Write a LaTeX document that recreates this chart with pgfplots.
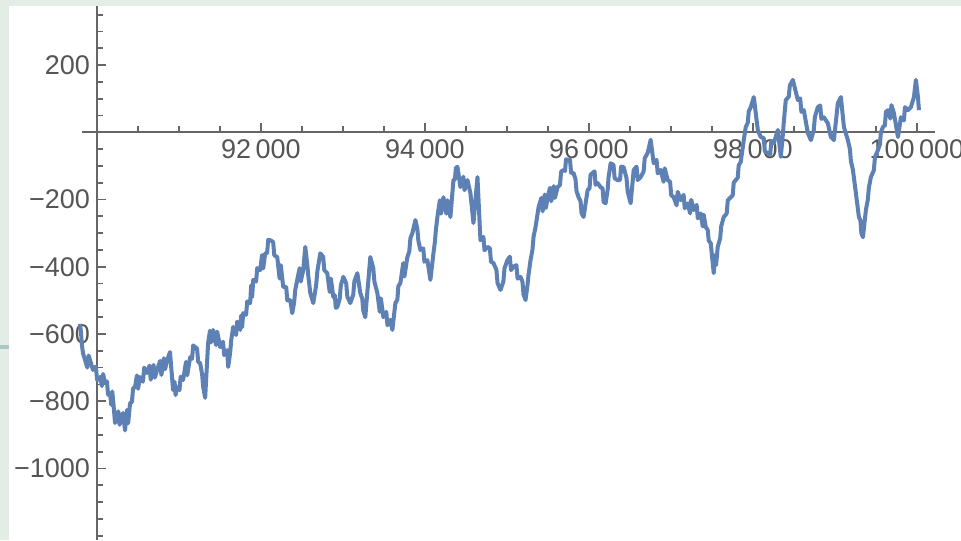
\documentclass[border=0pt]{standalone}
\usepackage{fontspec}
\setmainfont{Liberation Sans}
\usepackage{pgfplots}
\usepackage{pgfplotstable}
\pgfplotsset{compat=1.18}
\definecolor{mblue}{rgb}{0.368,0.507,0.710}
\definecolor{axgray}{HTML}{666666}
\definecolor{lblgray}{HTML}{555555}
\definecolor{strip}{HTML}{E4ECE6}
\definecolor{teal1}{HTML}{A9C9C6}
\pgfplotstableread{
x y
89792 -570
89805 -595
89815 -631
89829 -657
89882 -700
89898 -664
89951 -707
89986 -697
90002 -737
90037 -728
90060 -755
90074 -719
90098 -746
90121 -741
90135 -781
90159 -776
90174 -811
90186 -771
90200 -806
90220 -865
90260 -830
90276 -870
90317 -835
90342 -887
90365 -826
90380 -866
90403 -806
90426 -802
90440 -762
90464 -758
90487 -723
90501 -763
90525 -728
90560 -742
90576 -700
90611 -716
90640 -694
90655 -736
90690 -692
90705 -730
90733 -707
90770 -680
90785 -722
90815 -672
90830 -705
90855 -678
90890 -654
90928 -767
90946 -742
90958 -782
90977 -758
91006 -767
91020 -727
91050 -737
91086 -683
91100 -723
91136 -669
91159 -674
91173 -634
91197 -639
91220 -643
91234 -683
91258 -687
91282 -720
91294 -756
91319 -790
91355 -627
91378 -590
91392 -625
91416 -588
91452 -633
91466 -593
91502 -639
91537 -623
91551 -663
91587 -648
91600 -698
91624 -655
91636 -620
91661 -579
91696 -603
91710 -563
91746 -588
91758 -545
91770 -580
91783 -538
91818 -543
91832 -503
91868 -508
91880 -455
91892 -490
91905 -439
91940 -444
91954 -404
91990 -410
92013 -365
92027 -405
92051 -360
92074 -360
92088 -320
92112 -321
92148 -326
92162 -366
92198 -371
92227 -435
92241 -395
92271 -460
92307 -460
92321 -500
92357 -499
92381 -538
92405 -505
92417 -470
92442 -439
92471 -404
92485 -444
92515 -410
92540 -341
92565 -395
92576 -425
92601 -478
92637 -508
92673 -454
92687 -414
92723 -360
92758 -370
92772 -410
92808 -419
92838 -475
92852 -435
92882 -490
92900 -485
92912 -522
92930 -520
92960 -495
92974 -455
93004 -430
93039 -449
93053 -489
93089 -508
93125 -483
93139 -443
93175 -419
93211 -478
93235 -495
93247 -530
93272 -550
93297 -475
93308 -445
93333 -371
93369 -404
93383 -444
93419 -478
93448 -534
93462 -494
93492 -550
93528 -534
93542 -574
93578 -558
93602 -588
93639 -508
93663 -498
93675 -458
93700 -448
93735 -389
93749 -429
93785 -371
93808 -355
93822 -315
93846 -300
93883 -261
93907 -288
93919 -322
93944 -350
93979 -345
93993 -385
94029 -380
94066 -439
94103 -360
94121 -325
94133 -290
94151 -252
94181 -202
94195 -242
94225 -193
94260 -242
94274 -202
94310 -252
94347 -142
94365 -140
94377 -105
94396 -103
94432 -163
94468 -132
94482 -172
94518 -142
94554 -181
94591 -270
94640 -133
94676 -321
94712 -311
94726 -351
94762 -341
94791 -345
94805 -385
94835 -389
94871 -409
94885 -449
94921 -469
94956 -444
94970 -404
95006 -380
95035 -370
95049 -410
95079 -400
95115 -395
95129 -435
95165 -430
95189 -445
95201 -482
95226 -499
95250 -455
95262 -425
95287 -380
95310 -351
95324 -311
95348 -282
95385 -223
95420 -195
95435 -235
95460 -185
95475 -225
95495 -193
95525 -165
95540 -205
95570 -160
95585 -195
95617 -163
95646 -157
95660 -117
95690 -112
95708 -115
95720 -80
95739 -82
95768 -81
95782 -121
95812 -121
95836 -140
95848 -175
95873 -193
95897 -205
95909 -240
95934 -252
95983 -172
96007 -166
96019 -126
96044 -121
96068 -116
96080 -156
96105 -151
96142 -163
96166 -167
96178 -207
96203 -211
96228 -170
96238 -135
96264 -92
96299 -97
96313 -137
96349 -142
96378 -142
96392 -102
96422 -103
96458 -137
96472 -177
96508 -211
96545 -112
96580 -102
96594 -142
96630 -133
96666 -117
96680 -77
96716 -61
96752 -22
96789 -92
96824 -82
96838 -122
96874 -112
96910 -147
96924 -107
96960 -142
96989 -147
97003 -187
97033 -193
97068 -217
97082 -177
97118 -202
97154 -186
97168 -226
97204 -211
97233 -241
97247 -201
97277 -231
97313 -216
97327 -256
97363 -241
97387 -280
97399 -245
97424 -282
97448 -290
97460 -322
97485 -330
97521 -419
97540 -365
97550 -395
97570 -341
97600 -315
97612 -280
97643 -252
97679 -242
97693 -202
97729 -193
97753 -187
97765 -150
97790 -142
97814 -135
97826 -98
97851 -88
97888 -22
97912 16
97936 28
97948 62
97973 75
98010 105
98059 7
98095 -14
98131 -17
98145 -57
98181 -61
98210 -66
98224 -26
98254 -32
98303 7
98339 -73
98365 -5
98375 28
98400 96
98436 106
98450 140
98486 156
98547 96
98576 101
98590 61
98620 66
98669 -2
98706 -23
98741 6
98755 46
98791 75
98820 80
98834 40
98864 45
98913 27
98950 -14
98987 -23
99035 87
99072 105
99109 16
99157 -23
99182 -50
99194 -85
99219 -112
99255 -181
99292 -252
99310 -262
99322 -300
99341 -312
99377 -231
99401 -200
99413 -165
99438 -133
99474 -113
99488 -73
99524 -53
99548 -36
99560 0
99585 16
99609 21
99621 61
99646 66
99675 41
99689 81
99719 57
99768 -14
99804 45
99840 35
99854 75
99890 66
99926 75
99963 105
99987 156
100012 105
100024 66
}\walk
\begin{document}
\begin{tikzpicture}
\useasboundingbox (0,0) rectangle (480.5pt,270pt);
\fill[strip] (0,0) rectangle (480.5pt,270pt);
\fill[teal1] (0,95.5pt) rectangle (4.5pt,97.5pt);
\fill[white] (4.5pt,0) rectangle (480.5pt,267pt);
\clip (0,0) rectangle (480.5pt,270pt);
\begin{axis}[
  at={(41pt,0pt)}, anchor=south west,
  scale only axis, width=426.5pt, height=267pt,
  xmin=89817, xmax=100220, ymin=-1213, ymax=376,
  axis x line=middle, axis y line=left,
  axis y line shift=-7.5pt,
  axis line style={-, draw=axgray, line width=1pt},
  clip=false,
  scaled x ticks=false, scaled y ticks=false,
  tick align=inside,
  major tick length=4.5pt, minor tick length=3pt,
  every tick/.style={draw=axgray, line width=0.9pt},
  xtick={92000,94000,96000,98000,100000},
  xticklabels={92\,000,94\,000,96\,000,98\,000,100\,000},
  minor xtick={90500,91000,...,99500},
  ytick={-1000,-800,-600,-400,-200,200},
  yticklabels={−1000,−800,−600,−400,−200,200},
  minor ytick={-1200,-1150,...,350},
  ticklabel style={font=\fontsize{13.5}{16}\selectfont, text=lblgray},
]
\addplot[mblue, line width=2pt, line join=round, mark=none] table[x=x,y=y] {\walk};
\end{axis}
\end{tikzpicture}
\end{document}
